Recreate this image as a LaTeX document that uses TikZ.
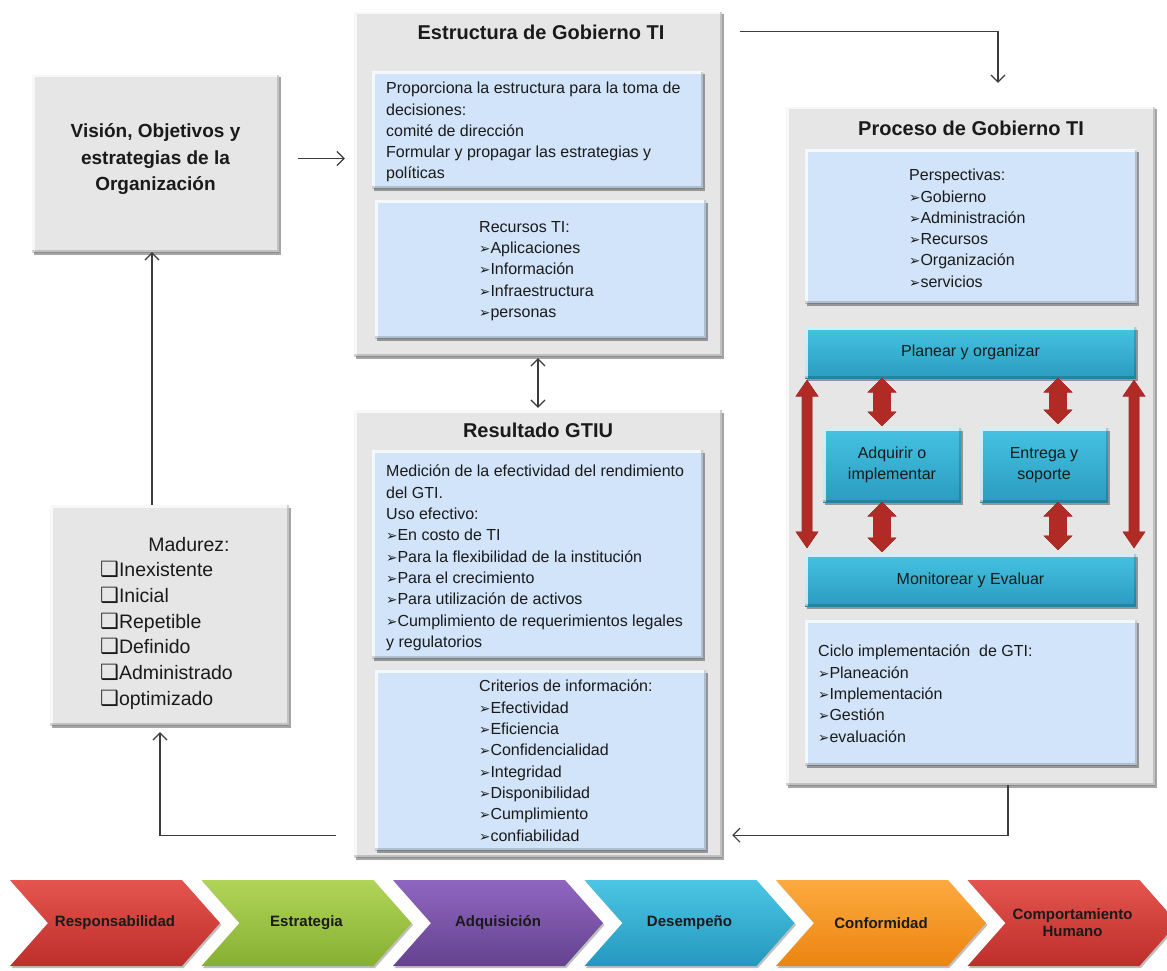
\documentclass[tikz,border=0pt]{standalone}
\usepackage{fontspec}
\setmainfont{Liberation Sans}
\newfontfamily\symfont{DejaVu Sans}
\usetikzlibrary{arrows.meta,shapes.symbols,shadows,fit,calc}

\definecolor{boxgray}{HTML}{E6E6E6}
\definecolor{paleblue}{HTML}{D2E4F9}
\definecolor{linegray}{HTML}{3C3C3C}
\definecolor{cyantop}{HTML}{46C2E2}
\definecolor{cyanbot}{HTML}{2A9CC0}
\definecolor{arrdark}{HTML}{B02A26}
\definecolor{arrlight}{HTML}{E65A54}
\definecolor{redtop}{HTML}{E4554F}
\definecolor{redbot}{HTML}{BE2E2A}
\definecolor{greentop}{HTML}{B0D458}
\definecolor{greenbot}{HTML}{86B032}
\definecolor{purpletop}{HTML}{9066C0}
\definecolor{purplebot}{HTML}{64428F}
\definecolor{cyanctop}{HTML}{4CC6E4}
\definecolor{cyancbot}{HTML}{2498BE}
\definecolor{orangetop}{HTML}{FCAA40}
\definecolor{orangebot}{HTML}{EC8410}
\definecolor{txtcol}{HTML}{1A1A1A}

% bullet glyphs
\newcommand\bul{{\symfont\fontsize{13.5}{13.5}\selectfont ➢}}
\newcommand\chk{{\symfont\fontsize{21}{21}\selectfont ❑}}

% vertical red double block arrow: top point, bottom point, shaft half width, head half width, head length
\newcommand\redarrow[5]{%
  \filldraw[redarrowstyle]
    (#1) -- ($(#1)+(#4,#5)$) -- ($(#1)+(#3,#5)$) -- ($(#2)+(#3,-#5)$) -- ($(#2)+(#4,-#5)$)
    -- (#2) -- ($(#2)+(-#4,-#5)$) -- ($(#2)+(-#3,-#5)$) -- ($(#1)+(-#3,#5)$) -- ($(#1)+(-#4,#5)$) -- cycle;}

\tikzset{
  bevel/.style={path picture={
    \draw[white,opacity=.75,line width=5pt]
      (path picture bounding box.south west) -- (path picture bounding box.north west)
      -- (path picture bounding box.north east);
    \draw[black,opacity=.16,line width=5pt]
      (path picture bounding box.north east) -- (path picture bounding box.south east)
      -- (path picture bounding box.south west);}},
  softshadow/.style={drop shadow={shadow xshift=2pt,shadow yshift=-2.5pt,opacity=.35,fill=black}},
  outerbox/.style={fill=boxgray,inner sep=0pt,bevel,softshadow},
  panel/.style={fill=paleblue,inner sep=0pt,bevel,softshadow},
  cyanbox/.style={top color=cyantop,bottom color=cyanbot,inner sep=0pt,bevel,softshadow},
  redarrowstyle/.style={left color=arrdark,middle color=arrlight,right color=arrdark,draw=arrdark,line width=.6pt},
  txt/.style={font=\fontsize{16}{21.3}\selectfont,text=txtcol,align=left,inner sep=0pt,anchor=north west},
  ctr/.style={font=\fontsize{16}{21}\selectfont,text=txtcol,align=center,inner sep=0pt},
  ttl/.style={font=\bfseries\fontsize{20}{24}\selectfont,text=txtcol,inner sep=0pt},
  conn/.style={draw=linegray,line width=1.2pt},
  tip/.style={-{Straight Barb[length=7pt,width=14pt]}},
  chev/.style={signal,signal to=east,signal from=west,signal pointer angle=97,
    minimum width=210pt,minimum height=86pt,inner sep=0pt,
    font=\bfseries\fontsize{15}{17}\selectfont,text=txtcol,align=center,
    drop shadow={shadow xshift=1.5pt,shadow yshift=-2pt,opacity=.25,fill=black}},
}

\begin{document}
\begin{tikzpicture}[x=1pt,y=-1pt]
\useasboundingbox (0,0) rectangle (1167,971);
\fill[white] (0,0) rectangle (1167,971);

% ---- left column
\node[outerbox,fit={(32,75) (279,252)}] (vis) {};
\node[font=\bfseries\fontsize{19}{26.5}\selectfont,text=txtcol,align=center,inner sep=0pt]
  (vist) at ([yshift=4pt]vis.center) {Visión, Objetivos y\\estrategias de la\\Organización};

\node[outerbox,fit={(50,505) (289,725)}] (mad) {};
\node[font=\fontsize{19.5}{25.6}\selectfont,text=txtcol,inner sep=0pt] (madt) at (189,545) {Madurez:};
\node[txt,font=\fontsize{19.5}{25.8}\selectfont] (madl) at (100,561)
  {\chk Inexistente\\\chk Inicial\\\chk Repetible\\\chk Definido\\\chk Administrado\\\chk optimizado};

% ---- governance structure
\node[outerbox,fit={(354,12) (722,356)}] (est) {};
\node[ttl] (estt) at (541,32) {Estructura de Gobierno TI};
\node[panel,fit={(372,72) (703,188)}] (estp1) {};
\node[txt] (estp1t) at (386,82)
  {Proporciona la estructura para la toma de\\decisiones:\\comité de dirección\\Formular y propagar las estrategias y\\políticas};
\node[panel,fit={(375,200) (706,338)}] (estp2) {};
\node[txt] (estp2t) at (479,221)
  {Recursos TI:\\\bul Aplicaciones\\\bul Información\\\bul Infraestructura\\\bul personas};

% ---- results
\node[outerbox,fit={(354,410) (722,857)}] (res) {};
\node[ttl] (rest) at (538,430) {Resultado GTIU};
\node[panel,fit={(372,450) (703,658)}] (resp1) {};
\node[txt] (resp1t) at (386,465)
  {Medición de la efectividad del rendimiento\\del GTI.\\Uso efectivo:\\\bul En costo de TI\\\bul Para la flexibilidad de la institución\\\bul Para el crecimiento\\\bul Para utilización de activos\\\bul Cumplimiento de requerimientos legales\\y regulatorios};
\node[panel,fit={(375,670) (706,850)}] (resp2) {};
\node[txt] (resp2t) at (479,680)
  {Criterios de información:\\\bul Efectividad\\\bul Eficiencia\\\bul Confidencialidad\\\bul Integridad\\\bul Disponibilidad\\\bul Cumplimiento\\\bul confiabilidad};

% ---- process
\node[outerbox,fit={(786,107) (1155,785)}] (proc) {};
\node[ttl] (proct) at (971,128) {Proceso de Gobierno TI};
\node[panel,fit={(805,150) (1137,303)}] (persp) {};
\node[txt] (perspt) at (909,169)
  {Perspectivas:\\\bul Gobierno\\\bul Administración\\\bul Recursos\\\bul Organización\\\bul servicios};
\node[cyanbox,fit={(805,327) (1136,378)}] (plan) {};
\node[ctr] (plant) at (plan.center) {Planear y organizar};
\node[cyanbox,fit={(823,428) (961,502)}] (adq) {};
\node[ctr] (adqt) at (adq.center) {Adquirir o\\implementar};
\node[cyanbox,fit={(980,428) (1108,502)}] (ent) {};
\node[ctr] (entt) at (ent.center) {Entrega y\\soporte};
\node[cyanbox,fit={(805,554) (1136,606)}] (mon) {};
\node[ctr] (mont) at (mon.center) {Monitorear y Evaluar};
\node[panel,fit={(805,620) (1137,765)}] (ciclo) {};
\node[txt] (ciclot) at (818,645)
  {Ciclo implementación\ \ de GTI:\\\bul Planeación\\\bul Implementación\\\bul Gestión\\\bul evaluación};

% ---- red block arrows inside the process box
\coordinate (ax0) at (807,0);
\coordinate (ax1) at (882,0);
\coordinate (ax2) at (1058,0);
\coordinate (ax3) at (1134,0);
\coordinate (l0t) at ([yshift=-2pt]ax0 |- plan.south);
\coordinate (l0b) at ([yshift=6pt]ax0 |- mon.north);
\coordinate (l3t) at ([yshift=-2pt]ax3 |- plan.south);
\coordinate (l3b) at ([yshift=6pt]ax3 |- mon.north);
\coordinate (s1t) at (ax1 |- plan.south);
\coordinate (s1b) at ([yshift=2pt]ax1 |- adq.north);
\coordinate (s1c) at (ax1 |- adq.south);
\coordinate (s1d) at ([yshift=2pt]ax1 |- mon.north);
\coordinate (s2t) at (ax2 |- plan.south);
\coordinate (s2b) at ([yshift=4pt]ax2 |- ent.north);
\coordinate (s2c) at (ax2 |- ent.south);
\coordinate (s2d) at ([yshift=4pt]ax2 |- mon.north);
\redarrow{l0t}{l0b}{5}{11}{16}
\redarrow{l3t}{l3b}{5}{11}{16}
\redarrow{s1t}{s1b}{8.5}{14}{14}
\redarrow{s1c}{s1d}{8.5}{14}{14}
\redarrow{s2t}{s2b}{8.5}{14}{14}
\redarrow{s2c}{s2d}{8.5}{14}{14}

% ---- connectors
\draw[conn,tip,shorten <=19pt,shorten >=9pt] ([yshift=5pt]vis.east) -- ([yshift=5pt]vis.east -| est.west);
\draw[conn,tip,shorten <=18pt,shorten >=24pt] ([yshift=-20pt]est.north east) -| ([xshift=27.5pt]proc.north);
\draw[conn,{Straight Barb[length=7pt,width=14pt]}-{Straight Barb[length=7pt,width=14pt]},shorten <=2pt,shorten >=2pt]
  (est.south -| 538,0) -- (res.north -| 538,0);
\draw[conn,tip,shorten >=10pt] ([xshift=37.5pt]proc.south) |- ([yshift=22pt]res.south east);
\coordinate (madin) at ([xshift=-9.5pt]mad.south);
\draw[conn,tip,shorten <=18pt,shorten >=7pt] ([yshift=22pt]res.south west) -| (madin);
\coordinate (visin) at ([xshift=-3.5pt]vis.south);
\draw[conn,tip] (mad.north -| visin) -- (visin);

% ---- chevron band
\node[chev,top color=redtop,bottom color=redbot] (c1) at (115,923) {Responsabilidad};
\node[chev,top color=greentop,bottom color=greenbot] (c2) at (306.5,923) {Estrategia};
\node[chev,top color=purpletop,bottom color=purplebot] (c3) at (498,923) {Adquisición};
\node[chev,top color=cyanctop,bottom color=cyancbot] (c4) at (689.5,923) {Desempeño};
\node[chev,top color=orangetop,bottom color=orangebot] (c5) at (881,923) {Conformidad};
\node[chev,top color=redtop,bottom color=redbot] (c6) at (1072.5,923) {Comportamiento\\Humano};
\end{tikzpicture}
\end{document}
